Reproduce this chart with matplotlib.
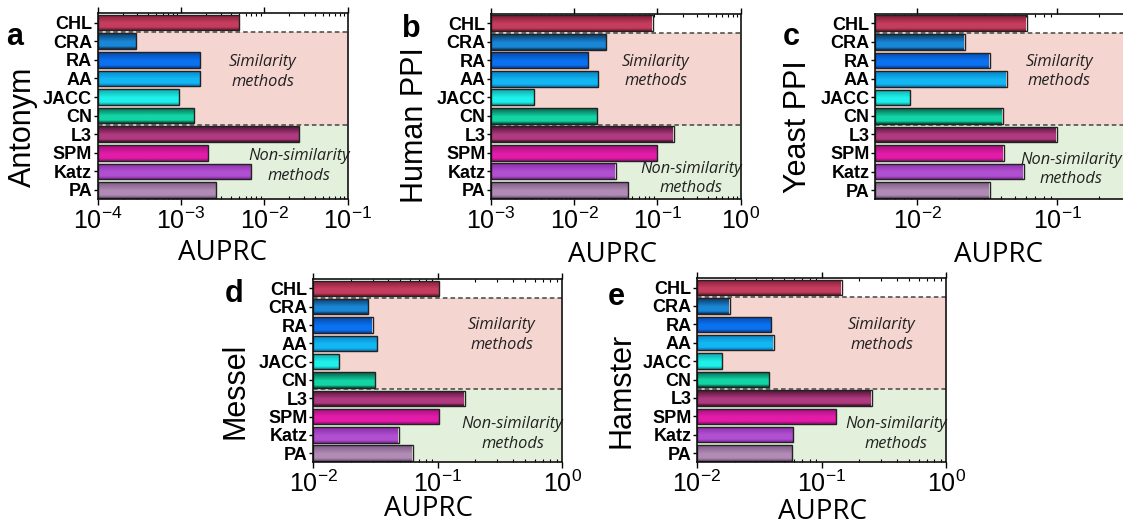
import numpy as np
import matplotlib
matplotlib.use("Agg")
import matplotlib.pyplot as plt
from matplotlib.colors import LinearSegmentedColormap
from matplotlib.ticker import LogLocator, NullFormatter, FixedLocator

plt.rcParams['font.family'] = 'Liberation Sans'
plt.rcParams['mathtext.fontset'] = 'custom'
plt.rcParams['mathtext.rm'] = 'Liberation Sans'
plt.rcParams['mathtext.it'] = 'Liberation Sans:italic'

methods = ["CHL", "CRA", "RA", "AA", "JACC", "CN", "L3", "SPM", "Katz", "PA"]

antonym = [5.0e-3, 2.9e-4, 1.68e-3, 1.7e-3, 9.5e-4, 1.45e-3, 2.6e-2, 2.13e-3, 7.0e-3, 2.65e-3]
human_ppi = [0.088, 0.0243, 0.0148, 0.0195, 0.0033, 0.0188, 0.156, 0.100, 0.0316, 0.0447]
yeast_ppi = [0.0605, 0.0219, 0.0329, 0.0435, 0.0089, 0.0408, 0.0993, 0.0414, 0.0577, 0.0330]
messel = [0.103, 0.0277, 0.0303, 0.0327, 0.0162, 0.0315, 0.166, 0.103, 0.049, 0.0635]
hamster = [0.145, 0.0183, 0.0395, 0.0412, 0.016, 0.038, 0.252, 0.131, 0.0592, 0.058]

# (dark top, light body) for each method bar
bar_colors = [
    ("#7e1c34", "#c43c5e"),
    ("#0b3a66", "#1a86d6"),
    ("#0748a8", "#0a72f0"),
    ("#0a7fc0", "#12b6f2"),
    ("#0fa8a8", "#1ff0ea"),
    ("#05604a", "#12d4a4"),
    ("#4e1236", "#b03a80"),
    ("#a0107c", "#e21ca8"),
    ("#8a2ca8", "#b050d0"),
    ("#7e5a86", "#b08cb4"),
]

# name, values, xlim, ticks, axes rect in pixels (left, top, right, bottom),
# panel letter, letter pos, ylabel pos, xlabel pos, text positions
W, H = 1123, 532
panels = [
    ("Antonym", antonym, (1e-4, 1e-1), [-4, -3, -2, -1], (97.7, 13.3, 347.7, 199.3),
     "a", (15, 37), (23, 127), (222, 253), (0.66, 0.685), (0.805, 0.18)),
    ("Human PPI", human_ppi, (1e-3, 1e0), [-3, -2, -1, 0], (491, 14, 740.7, 199),
     "b", (411, 29), (415, 125), (612, 255), (0.66, 0.69), (0.80, 0.11)),
    ("Yeast PPI", yeast_ppi, (5e-3, 0.3), [-2, -1], (875, 14, 1124, 199.3),
     "c", (791, 37), (798, 127), (998, 255), (0.74, 0.69), (0.787, 0.16)),
    ("Messel", messel, (1e-2, 1e0), [-2, -1, 0], (313.3, 279.3, 562.3, 462.3),
     "d", (234, 294), (236, 391), (428, 509), (0.757, 0.696), (0.80, 0.156)),
    ("Hamster", hamster, (1e-2, 1e0), [-2, -1, 0], (697, 278.3, 946.3, 462.3),
     "e", (616, 297), (622, 390), (822, 512), (0.74, 0.692), (0.80, 0.155)),
]

fig = plt.figure(figsize=(W / 100, H / 100), dpi=100)

grad = np.linspace(0, 1, 64).reshape(-1, 1)

for (name, vals, xlim, ticks, rect, letter, lpos, ylpos, xlpos, simpos, nonpos) in panels:
    l, t, r, b = rect
    ax = fig.add_axes([l / W, 1 - b / H, (r - l) / W, (b - t) / H])
    ax.set_xscale('log')
    ax.set_xlim(*xlim)
    ax.set_ylim(9.5, -0.5)

    ax.axhspan(0.5, 5.5, color="#f5d5d0", zorder=0, lw=0)
    ax.axhspan(5.5, 9.5, color="#e3f1dc", zorder=0, lw=0)
    for yb in (0.5, 5.5):
        ax.axhline(yb, color="#444444", lw=1.1, ls=(0, (3, 2)), zorder=3)

    y = np.arange(len(methods))
    bars = ax.barh(y, np.array(vals) - xlim[0], left=xlim[0], height=0.84,
                   facecolor='none', edgecolor="#222222", linewidth=1.0, zorder=4)
    for bar, (dark, light), v in zip(bars, bar_colors, vals):
        cmap = LinearSegmentedColormap.from_list("g", [(0, dark), (0.55, light), (0.85, light), (1, dark)])
        yc = bar.get_y()
        hh = bar.get_height()
        im = ax.imshow(grad, cmap=cmap, aspect='auto', interpolation='bilinear',
                       extent=[xlim[0], v, yc + hh, yc], zorder=3.5)
        im.set_clip_path(bar)

    ax.set_yticks(y)
    ax.set_yticklabels(methods, fontsize=13, fontweight='bold')
    ax.tick_params(axis='y', direction='out', length=3, width=1, pad=1)

    ax.xaxis.set_major_locator(FixedLocator([10.0 ** k for k in ticks]))
    ax.set_xticklabels([r"$10^{%d}$" % k for k in ticks], fontsize=18)
    ax.xaxis.set_minor_locator(LogLocator(base=10, subs=np.arange(2, 10), numticks=20))
    ax.xaxis.set_minor_formatter(NullFormatter())
    ax.tick_params(axis='x', which='major', direction='out', length=4, width=1, pad=2, top=True)
    ax.tick_params(axis='x', which='minor', direction='in', length=2.5, width=0.8, top=True)
    for s in ax.spines.values():
        s.set_linewidth(1.2)
        s.set_color("#111111")
        s.set_zorder(6)

    ax.text(simpos[0], simpos[1], "Similarity\nmethods", transform=ax.transAxes,
            ha='center', va='center', fontsize=11.8, style='italic',
            family='Open Sans', color="#222222", linespacing=1.3, zorder=5)
    ax.text(nonpos[0], nonpos[1], "Non-similarity\nmethods", transform=ax.transAxes,
            ha='center', va='center', fontsize=11.8, style='italic',
            family='Open Sans', color="#222222", linespacing=1.3, zorder=5)

    fig.text(lpos[0] / W, 1 - lpos[1] / H, letter, fontsize=22, fontweight='bold',
             ha='center', va='center')
    fig.text(ylpos[0] / W, 1 - ylpos[1] / H, name, fontsize=22, rotation=90,
             ha='center', va='center')
    fig.text(xlpos[0] / W, 1 - xlpos[1] / H, "AUPRC", fontsize=20, family='Open Sans',
             ha='center', va='center')

fig.savefig("out.png", dpi=100)
